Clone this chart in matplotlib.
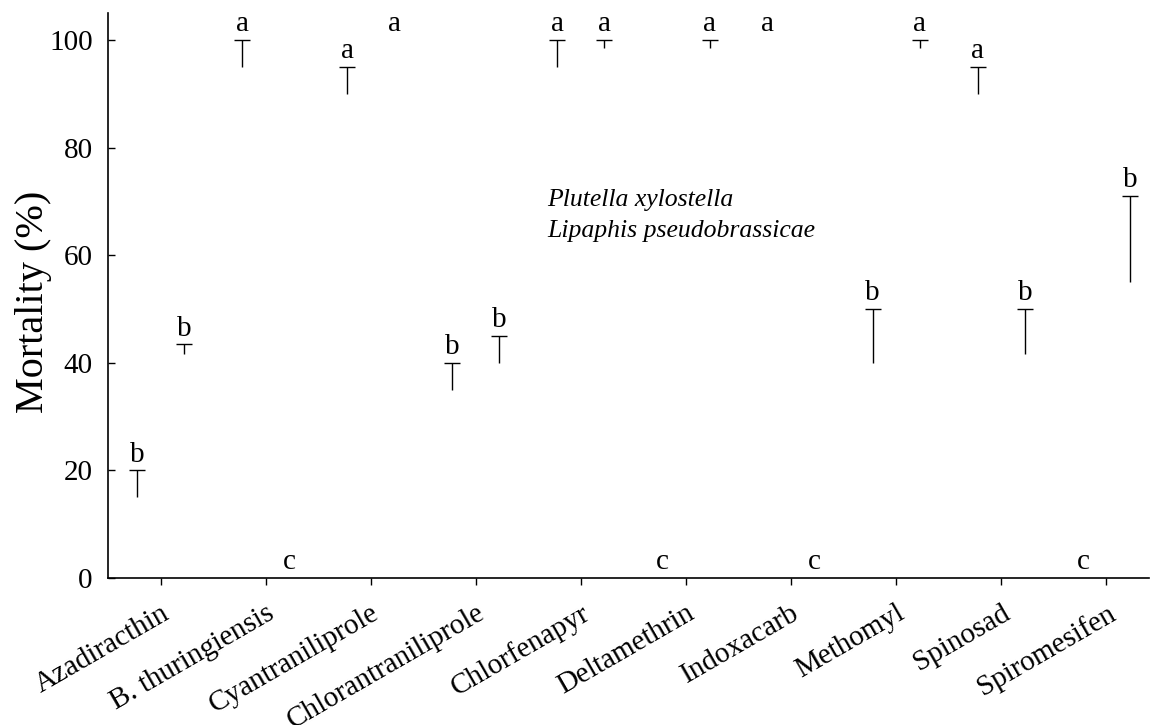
import matplotlib
matplotlib.use("Agg")
import matplotlib.pyplot as plt
import matplotlib.transforms as mtransforms
import numpy as np

categories = ['Azadiracthin', 'B. thuringiensis', 'Cyantraniliprole', 'Chlorantraniliprole',
              'Chlorfenapyr', 'Deltamethrin', 'Indoxacarb', 'Methomyl', 'Spinosad', 'Spiromesifen']
series_names = ['Plutella xylostella', 'Lipaphis pseudobrassicae']
px_mean = [15, 95, 90, 35, 95, 0, 100, 40, 90, 0]
px_se = [5, 5, 5, 5, 5, 0, 0, 10, 5, 0]
px_letters = ['b', 'a', 'a', 'b', 'a', 'c', 'a', 'b', 'a', 'c']
lp_mean = [41.7, 0, 100, 40, 98.5, 98.5, 0, 98.5, 41.7, 55]
lp_se = [1.7, 0, 0, 5, 1.5, 1.5, 0, 1.5, 8.3, 16]
lp_letters = ['b', 'c', 'a', 'b', 'a', 'a', 'c', 'a', 'b', 'b']
yticks = [0, 20, 40, 60, 80, 100]

plt.rcParams['font.family'] = ['Liberation Serif', 'DejaVu Serif']

fig = plt.figure(figsize=(11.5, 7.25), dpi=100)
ax = fig.add_axes([108/1150, 1 - 578/725, (1149 - 108)/1150, (578 - 13)/725])

x = np.arange(len(categories))
off = 0.224
w = 0.4

series = [(px_mean, px_se, px_letters, -off), (lp_mean, lp_se, lp_letters, off)]
handles = []
for (mean, se, letters, dx), name in zip(series, series_names):
    xs = x + dx
    b = ax.bar(xs, mean, width=w, color='white', edgecolor='none', label=name)
    handles.append(b)
    for xi, m, s, lt in zip(xs, mean, se, letters):
        if s > 0:
            ax.errorbar(xi, m, yerr=[[0], [s]], fmt='none', ecolor='black',
                        elinewidth=1.0, capsize=0)
            ax.plot([xi], [m + s], marker='_', markersize=11.5, markeredgewidth=1.0,
                    color='black', linestyle='none')
        ax.text(xi, m + s + 1.6, lt, ha='center', va='baseline', fontsize=21)

ax.set_xlim(-0.5, 9.405)
ax.set_ylim(0, 105)
ax.set_yticks(yticks)
ax.set_xticks(x)
ax.set_xticklabels(categories, rotation=30, ha='right', va='top',
                   rotation_mode='anchor', fontsize=21)
shift = mtransforms.ScaledTranslation(5/100, 0, fig.dpi_scale_trans)
for lab in ax.get_xticklabels():
    lab.set_transform(lab.get_transform() + shift)
ax.tick_params(axis='y', labelsize=21, direction='in', length=5, width=1.0, pad=11)
ax.tick_params(axis='x', direction='out', length=5, width=1.0, pad=11)
for s in ['top', 'right']:
    ax.spines[s].set_visible(False)
for s in ['left', 'bottom']:
    ax.spines[s].set_linewidth(1.2)

ax.set_ylabel('Mortality (%)', fontsize=29)
ax.yaxis.set_label_coords((52 - 108)/1041, (578 - 302)/565)

leg = ax.legend(handles=handles, labels=series_names, loc='upper left',
                bbox_to_anchor=((547 - 108)/1041, (578 - 188)/565),
                frameon=False, handlelength=0, handletextpad=0, borderpad=0,
                borderaxespad=0, labelspacing=0.3, prop={'style': 'italic', 'size': 18.5})

fig.savefig('out.png', dpi=100)
